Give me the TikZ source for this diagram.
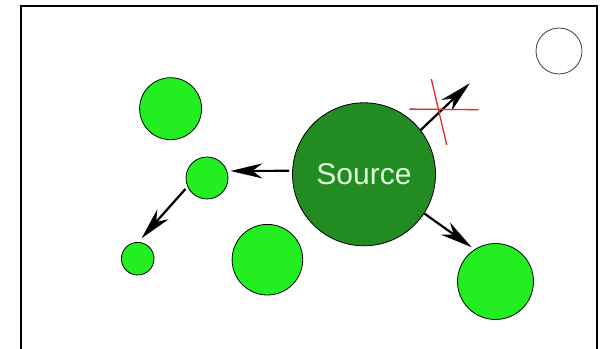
\documentclass[tikz,border=0pt]{standalone}
\usepackage{fontspec}
\setmainfont{Liberation Sans}
\usetikzlibrary{arrows.meta}
\definecolor{darkgr}{RGB}{34,139,34}
\definecolor{lightgr}{RGB}{34,238,34}
\definecolor{txtgr}{RGB}{224,255,220}
\definecolor{crossred}{RGB}{235,40,40}
\begin{document}
\begin{tikzpicture}[x=1pt,y=1pt,
  ball/.style={circle,draw=black,line width=0.8pt,fill=lightgr,inner sep=0pt},
  arr/.style={line width=2.2pt,-{Stealth[length=32pt,width=15pt,inset=10pt]}},
  redx/.style={draw=crossred,line width=1.3pt}]
\useasboundingbox (0,0) rectangle (602,348);
% frame
\draw[line width=2pt] (21,-3) -- (21,342) -- (597,342) -- (597,-3);
% circles
\node[ball,minimum size=62pt] (tl) at (170.6,239.3) {};
\node[ball,minimum size=42pt] (m1) at (207,170) {};
\node[ball,minimum size=32.6pt] (bl) at (137.7,89.3) {};
\node[ball,minimum size=70.6pt] (bm) at (267.4,88.3) {};
\node[ball,minimum size=76pt] (br) at (495.5,66.5) {};
\node[circle,draw=black!75,line width=0.8pt,fill=white,inner sep=0pt,minimum size=46pt] (empty) at (559,297) {};
\node[circle,draw=black,line width=0.8pt,fill=darkgr,inner sep=0pt,minimum size=143pt,
  text=txtgr,font=\fontsize{30}{32}\selectfont] (src) at (364,173.7) {Source};
% arrows
\draw[arr] ([xshift=-3pt,yshift=3.5pt]src.west) -- ([xshift=2pt,yshift=7pt]m1.east);
\draw[arr,shorten <=3pt,shorten >=5pt] (m1.204) -- (bl.88);
\draw[arr,shorten >=3.5pt] (src.-33.5) -- (br.123);
\coordinate (up) at (469.8,264.7);
\draw[arr] (src.38) -- (up);
% red cross
\coordinate (ch1) at (409.3,238.9);
\coordinate (ch2) at (478.6,238.3);
\coordinate (cv1) at (431.3,269);
\coordinate (cv2) at (446.7,203);
\draw[redx] (ch1) -- (ch2);
\draw[redx] (cv1) -- (cv2);
\end{tikzpicture}
\end{document}
